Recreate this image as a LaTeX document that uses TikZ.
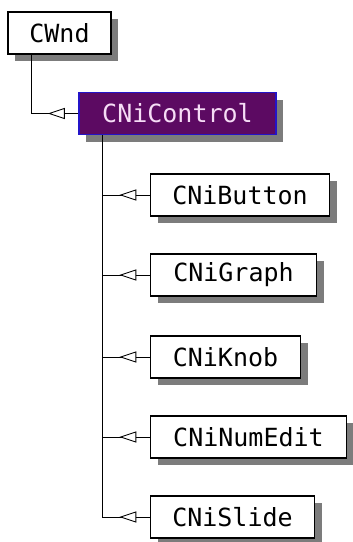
\documentclass[tikz,border=0pt]{standalone}
\usepackage{fontspec}
\setmonofont{DejaVu Sans Mono}
\usetikzlibrary{shadows}
\definecolor{shadowgray}{HTML}{7C7C7C}
\definecolor{ctrlfill}{HTML}{5C0A62}
\definecolor{ctrlborder}{HTML}{2414C8}
\definecolor{ctrltext}{HTML}{F6DCF6}
\tikzset{
  classbox/.style={draw=black, fill=white, line width=1.4pt, minimum height=42pt,
    inner sep=0pt, font=\ttfamily\fontsize{25}{25}\selectfont,
    drop shadow={shadow xshift=7pt, shadow yshift=-7pt, fill=shadowgray, opacity=1}},
  ctrlbox/.style={classbox, draw=ctrlborder, fill=ctrlfill, text=ctrltext},
  conn/.style={draw=black, line width=0.9pt},
  openhead/.style={draw=black, fill=white, line width=0.9pt, line join=miter}
}
\newcommand{\inheritline}[2]{%
  \draw[conn] (#1) |- (#2.west);
  \draw[openhead] ([xshift=-29pt]#2.west) -- ([xshift=-14pt,yshift=5pt]#2.west)
     -- ([xshift=-14pt,yshift=-5pt]#2.west) -- cycle;
}
\begin{document}
\begin{tikzpicture}[x=1pt,y=-1pt]
\useasboundingbox (0,0) rectangle (353,542);
\node[classbox, minimum width=103pt] (cwnd) at (59.5,33) {CWnd};
\node[ctrlbox, minimum width=197pt] (ctrl) at (177.5,113.5) {CNiControl};
\node[classbox, minimum width=179pt] (btn) at (240,195) {CNiButton};
\node[classbox, minimum width=166pt] (graph) at (233.5,275) {CNiGraph};
\node[classbox, minimum width=150pt] (knob) at (225.5,357) {CNiKnob};
\node[classbox, minimum width=196pt] (numedit) at (248.5,437) {CNiNumEdit};
\node[classbox, minimum width=164pt] (slide) at (232.5,517) {CNiSlide};
\coordinate (cwndtrunk) at ([xshift=24pt]cwnd.south west);
\coordinate (ctrltrunk) at ([xshift=24pt]ctrl.south west);
\inheritline{cwndtrunk}{ctrl}
\inheritline{ctrltrunk}{btn}
\inheritline{ctrltrunk}{graph}
\inheritline{ctrltrunk}{knob}
\inheritline{ctrltrunk}{numedit}
\inheritline{ctrltrunk}{slide}
\end{tikzpicture}
\end{document}
